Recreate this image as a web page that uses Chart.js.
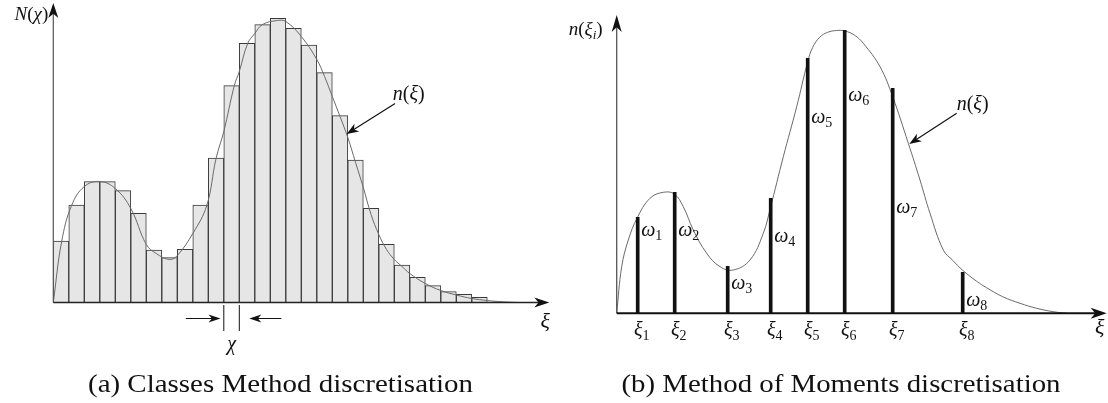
<!DOCTYPE html>
<html>
<head>
<meta charset="utf-8">
<script src="https://cdn.jsdelivr.net/npm/chart.js@4.4.1/dist/chart.umd.min.js"></script>
<style>
  body { margin: 0; background: #fff; }
  #wrap { position: relative; width: 1108px; height: 403px; }
  canvas { position: absolute; top: 0; }
  #classes { left: 0; }
  #moments { left: 554px; }
</style>
</head>
<body>
<div id="wrap">
  <canvas id="classes" width="554" height="403"></canvas>
  <canvas id="moments" width="554" height="403"></canvas>
</div>
<script>
// (a) class histogram: class centres (in class widths) and counts
const classCenters = [0.5, 1.5, 2.5, 3.5, 4.5, 5.5, 6.5, 7.5, 8.5, 9.5, 10.5, 11.5, 12.5, 13.5,
  14.5, 15.5, 16.5, 17.5, 18.5, 19.5, 20.5, 21.5, 22.5, 23.5, 24.5, 25.5, 26.5, 27.5];
const classCounts = [61.5, 97.5, 120.8, 120.8, 111.8, 89.2, 52.5, 44.8, 53.2, 97.5, 144.5, 216.8,
  259.2, 277.8, 284.2, 274.2, 257.5, 229.8, 186.8, 142.5, 94.2, 58.2, 37.5, 25.2, 16.8, 10.8, 8.2, 5.2];

// (a) underlying distribution n(xi)
const densityAX = [0, 0.54, 1.18, 2, 3, 4, 5, 6, 6.64, 7.5, 8, 9, 9.9, 10.5, 11, 11.68, 12, 12.54, 13,
  13.5, 14.46, 15, 16, 17, 17.5, 18, 18.5, 19, 19.5, 20, 20.5, 21, 21.5, 22, 22.5, 23, 24, 25, 26, 27, 28, 29, 30];
const densityAY = [0, 61, 97, 116, 121, 114, 94, 58, 49, 43, 47, 69, 97, 144, 171, 217, 231, 259, 269,
  278, 282, 281, 266, 243, 226, 206, 186, 165, 140, 115, 88, 68, 53, 43, 36, 29, 19, 12, 7.5, 4, 2, 0.7, 0];

// (b) quadrature nodes xi_i and weights omega_i
const nodeLabels = ['1', '2', '3', '4', '5', '6', '7', '8'];
const nodePositions = [2.1, 5.8, 11.1, 15.4, 19.1, 22.8, 27.6, 34.6];
const nodeWeights = [96, 121, 47, 115, 255, 283, 225, 41];

// (b) underlying distribution n(xi)
const densityBX = [0, 0.5, 1.16, 2.06, 3.33, 4.66, 5.76, 6.66, 7.66, 9, 10.33, 11.66, 13.33, 14.66, 15.36,
  16.66, 18, 19.1, 19.6, 20.3, 21.1, 22, 22.83, 23.8, 24.66, 26.33, 27.6, 29.16, 30.33, 31.33, 32.66,
  33.6, 34.6, 36, 37, 38.6, 40.33, 42, 43.66, 45];
const densityBY = [0, 46.6, 73.3, 95.6, 115, 121, 119.3, 106.6, 83.3, 60, 46.6, 43.3, 53.3, 80, 105,
  156.6, 206.6, 251.6, 266, 276, 281, 282.8, 282.3, 278, 270, 246.6, 216.6, 170, 133.3, 100, 63.3,
  53, 43, 32, 25.5, 16.6, 10, 5, 1.6, 0];

// heights at which the omega labels sit next to each node
const omegaLabelHeights = [83, 83, 30, 77, 196, 218, 106, 13];

const SERIF = '"Liberation Serif", "DejaVu Serif", serif';
const INK = '#111';

const it = t => ({ t, it: true });
const rm = t => ({ t });
const sub = t => ({ t, sub: true });
const subIt = t => ({ t, sub: true, it: true });

function mathText(ctx, x, y, parts, size, align) {
  ctx.save();
  ctx.fillStyle = INK;
  ctx.textBaseline = 'middle';
  ctx.textAlign = 'left';
  const fontOf = p => `${p.it ? 'italic ' : ''}${p.sub ? Math.round(size * 0.7) : size}px ${SERIF}`;
  let total = 0;
  const widths = parts.map(p => {
    ctx.font = fontOf(p);
    const w = ctx.measureText(p.t).width;
    total += w;
    return w;
  });
  let cx = align === 'center' ? x - total / 2 : align === 'right' ? x - total : x;
  parts.forEach((p, i) => {
    ctx.font = fontOf(p);
    ctx.fillText(p.t, cx, y + (p.sub ? size * 0.3 : 0));
    cx += widths[i];
  });
  ctx.restore();
}

// caption set to a fixed width
function caption(ctx, text, cx, cy, width, size) {
  ctx.save();
  ctx.font = `${size}px ${SERIF}`;
  const w = ctx.measureText(text).width;
  ctx.translate(cx, cy);
  ctx.scale(width / w, 1);
  ctx.fillStyle = INK;
  ctx.textAlign = 'center';
  ctx.textBaseline = 'middle';
  ctx.fillText(text, 0, 0);
  ctx.restore();
}

function line(ctx, x1, y1, x2, y2, color, width) {
  ctx.save();
  ctx.strokeStyle = color;
  ctx.lineWidth = width;
  ctx.beginPath();
  ctx.moveTo(x1, y1);
  ctx.lineTo(x2, y2);
  ctx.stroke();
  ctx.restore();
}

// stealth-style arrow head with its tip at (x, y)
function arrowHead(ctx, x, y, angle, len, half) {
  ctx.save();
  ctx.translate(x, y);
  ctx.rotate(angle);
  ctx.fillStyle = INK;
  ctx.beginPath();
  ctx.moveTo(0, 0);
  ctx.lineTo(-len, -half);
  ctx.lineTo(-len * 0.72, 0);
  ctx.lineTo(-len, half);
  ctx.closePath();
  ctx.fill();
  ctx.restore();
}

function arrow(ctx, x1, y1, x2, y2, len, half, width) {
  const a = Math.atan2(y2 - y1, x2 - x1);
  line(ctx, x1, y1, x2 - Math.cos(a) * len * 0.7, y2 - Math.sin(a) * len * 0.7, INK, width);
  arrowHead(ctx, x2, y2, a, len, half);
}

const decorClasses = {
  id: 'decorClasses',
  afterDraw(chart) {
    const { ctx, scales: { x, y } } = chart;
    const x0 = x.getPixelForValue(0), y0 = y.getPixelForValue(0);

    line(ctx, x0, y0, x0, y.top + 8, '#555', 1.2);
    arrowHead(ctx, x0, y.top, -Math.PI / 2, 15, 5);
    line(ctx, x0, y0, x.right - 8, y0, '#222', 1.5);
    arrowHead(ctx, x.right, y0, 0, 15, 5);

    mathText(ctx, x0 - 5, y.top + 12, [it('N'), rm('('), it('χ'), rm(')')], 19, 'right');
    mathText(ctx, x.right - 4, y0 + 20, [it('ξ')], 22, 'center');

    // class width marker under class 12
    const l = x.getPixelForValue(11), r = x.getPixelForValue(12);
    line(ctx, l, y0 + 2.5, l, y0 + 28.5, INK, 1);
    line(ctx, r, y0 + 2.5, r, y0 + 28.5, INK, 1);
    arrow(ctx, l - 38, y0 + 16, l - 3.3, y0 + 16, 12, 4, 1);
    arrow(ctx, r + 42, y0 + 16, r + 10, y0 + 16, 12, 4, 1);
    mathText(ctx, (l + r) / 2, y0 + 42, [it('χ')], 20, 'center');

    // n(xi) pointer
    arrow(ctx, x.getPixelForValue(22.05), y.getPixelForValue(199), x.getPixelForValue(18.93), y.getPixelForValue(168.5), 12, 4.5, 1.2);
    mathText(ctx, x.getPixelForValue(21.9), y.getPixelForValue(207.5), [it('n'), rm('('), it('ξ'), rm(')')], 20, 'left');

    caption(ctx, '(a) Classes Method discretisation', 280.5, 385, 385, 26);
  }
};

const decorMoments = {
  id: 'decorMoments',
  afterDraw(chart) {
    const { ctx, scales: { x, y } } = chart;
    const x0 = x.getPixelForValue(0), y0 = y.getPixelForValue(0);

    line(ctx, x0, y0, x0, y.top + 8, '#555', 1.3);
    arrowHead(ctx, x0, y.top, -Math.PI / 2, 17, 5);
    line(ctx, x0, y0, x.right - 8, y0, '#111', 2);
    arrowHead(ctx, x.right, y0, 0, 16, 5.5);

    mathText(ctx, x0 - 14, y.top + 15, [it('n'), rm('('), it('ξ'), subIt('i'), rm(')')], 19, 'right');
    mathText(ctx, x.right - 7, y0 + 15, [it('ξ')], 22, 'center');

    nodePositions.forEach((p, i) => {
      const px = x.getPixelForValue(p);
      mathText(ctx, px + 4, y0 + 17, [it('ξ'), sub(nodeLabels[i])], 20, 'center');
      mathText(ctx, px + 3.5, y.getPixelForValue(omegaLabelHeights[i]), [it('ω'), sub(nodeLabels[i])], 20, 'left');
    });

    arrow(ctx, x.getPixelForValue(34), y.getPixelForValue(200), x.getPixelForValue(29.26), y.getPixelForValue(169.3), 12, 4.5, 1.2);
    mathText(ctx, x.getPixelForValue(34), y.getPixelForValue(208.3), [it('n'), rm('('), it('ξ'), rm(')')], 20, 'left');

    caption(ctx, '(b) Method of Moments discretisation', 287, 385, 439, 26);
  }
};

const baseOptions = (pad, xMax, yMax) => ({
  responsive: false,
  animation: false,
  devicePixelRatio: 1,
  layout: { padding: pad },
  plugins: { legend: { display: false }, tooltip: { enabled: false } },
  scales: {
    x: { type: 'linear', min: 0, max: xMax, offset: false, display: false },
    y: { type: 'linear', min: 0, max: yMax, display: false }
  }
});

function drawCharts() {
  new Chart(document.getElementById('classes'), {
    type: 'bar',
    data: {
      datasets: [
        {
          type: 'line',
          data: densityAX.map((v, i) => ({ x: v, y: densityAY[i] })),
          borderColor: '#6a6a6a',
          borderWidth: 1,
          pointRadius: 0,
          tension: 0.4,
          order: 0
        },
        {
          type: 'bar',
          data: classCenters.map((v, i) => ({ x: v, y: classCounts[i] })),
          backgroundColor: '#e6e6e6',
          borderColor: '#3a3a3a',
          borderWidth: 1,
          barPercentage: 1,
          categoryPercentage: 1,
          order: 1
        }
      ]
    },
    options: baseOptions({ left: 53.3, right: 4.7, top: 3, bottom: 100.5 }, 32, 299.5),
    plugins: [decorClasses]
  });

  new Chart(document.getElementById('moments'), {
    type: 'bar',
    data: {
      datasets: [
        {
          type: 'line',
          data: densityBX.map((v, i) => ({ x: v, y: densityBY[i] })),
          borderColor: '#6a6a6a',
          borderWidth: 1,
          pointRadius: 0,
          tension: 0.4,
          order: 1
        },
        {
          type: 'bar',
          data: nodePositions.map((v, i) => ({ x: v, y: nodeWeights[i] })),
          backgroundColor: INK,
          borderWidth: 0,
          barThickness: 3,
          order: 0
        }
      ]
    },
    options: baseOptions({ left: 62.7, right: 1.3, top: 15, bottom: 89.7 }, 49, 298.3),
    plugins: [decorMoments]
  });
}

Promise.all([
  document.fonts.load('20px "Liberation Serif"'),
  document.fonts.load('italic 20px "Liberation Serif"')
]).then(drawCharts, drawCharts);
</script>
</body>
</html>
